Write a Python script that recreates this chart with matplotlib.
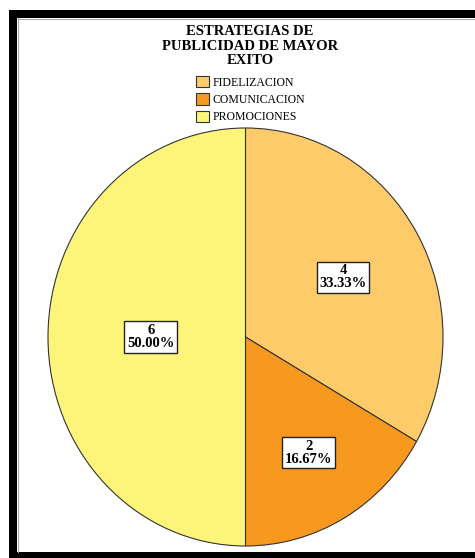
import numpy as np
import matplotlib.pyplot as plt
from matplotlib.lines import Line2D

categorias = ['FIDELIZACION', 'COMUNICACION', 'PROMOCIONES']
frecuencias = [4, 2, 6]
colores = ['#FECB6B', '#F7981F', '#FDF57A']
dist_etiqueta = [0.57, 0.64, 0.48]
titulo = 'ESTRATEGIAS DE\nPUBLICIDAD DE MAYOR\nEXITO'

plt.rcParams['font.family'] = ['Liberation Serif', 'DejaVu Serif']

W, H = 475, 558
fig = plt.figure(figsize=(W / 100, H / 100), dpi=100)

def px(x, y):
    return x / W, 1 - y / H

# marco negro
lw = 8 * 72 / 100
for xs, ys in [((13, 13), (10, 558)), ((9, 475), (14, 14)), ((9, 475), (556, 556))]:
    fig.add_artist(Line2D([x / W for x in xs], [1 - y / H for y in ys],
                          color='black', lw=lw, solid_capstyle='butt'))
fig.add_artist(Line2D([18 / W, 18 / W], [1 - 18 / H, 1 - 552 / H], color='#aaaaaa', lw=0.8))
fig.add_artist(Line2D([18 / W, 1], [1 - 18.5 / H, 1 - 18.5 / H], color='#aaaaaa', lw=0.8))

ax = fig.add_axes([48 / W, 12 / H, 395 / W, 418 / H])
total = sum(frecuencias)
wedges, _ = ax.pie(frecuencias, colors=colores, startangle=90, counterclock=False,
                   radius=1, wedgeprops=dict(edgecolor='#333333', linewidth=0.8))
ax.set_xlim(-1.0, 1.0)
ax.set_ylim(-1.0, 1.0)
ax.set_aspect('auto')
ax.axis('off')

for w, n, d in zip(wedges, frecuencias, dist_etiqueta):
    ang = np.deg2rad((w.theta1 + w.theta2) / 2)
    ax.text(d * np.cos(ang), d * np.sin(ang), f'{n}\n{100 * n / total:.2f}%',
            ha='center', va='center', fontsize=10.5, fontweight='bold', linespacing=1.0,
            bbox=dict(boxstyle='square,pad=0.18', facecolor='white', edgecolor='#222222', lw=1))

x, y = px(250, 46)
fig.text(x, y, titulo, ha='center', va='center', fontsize=10.5, fontweight='bold',
         linespacing=1.15)

fig.legend(wedges, categorias, loc='upper left', bbox_to_anchor=px(196, 76),
           frameon=False, fontsize=8.5, handlelength=1.1, handleheight=1.1,
           handletextpad=0.3, labelspacing=0.4, borderpad=0, borderaxespad=0)

fig.savefig('out.png', dpi=100)
